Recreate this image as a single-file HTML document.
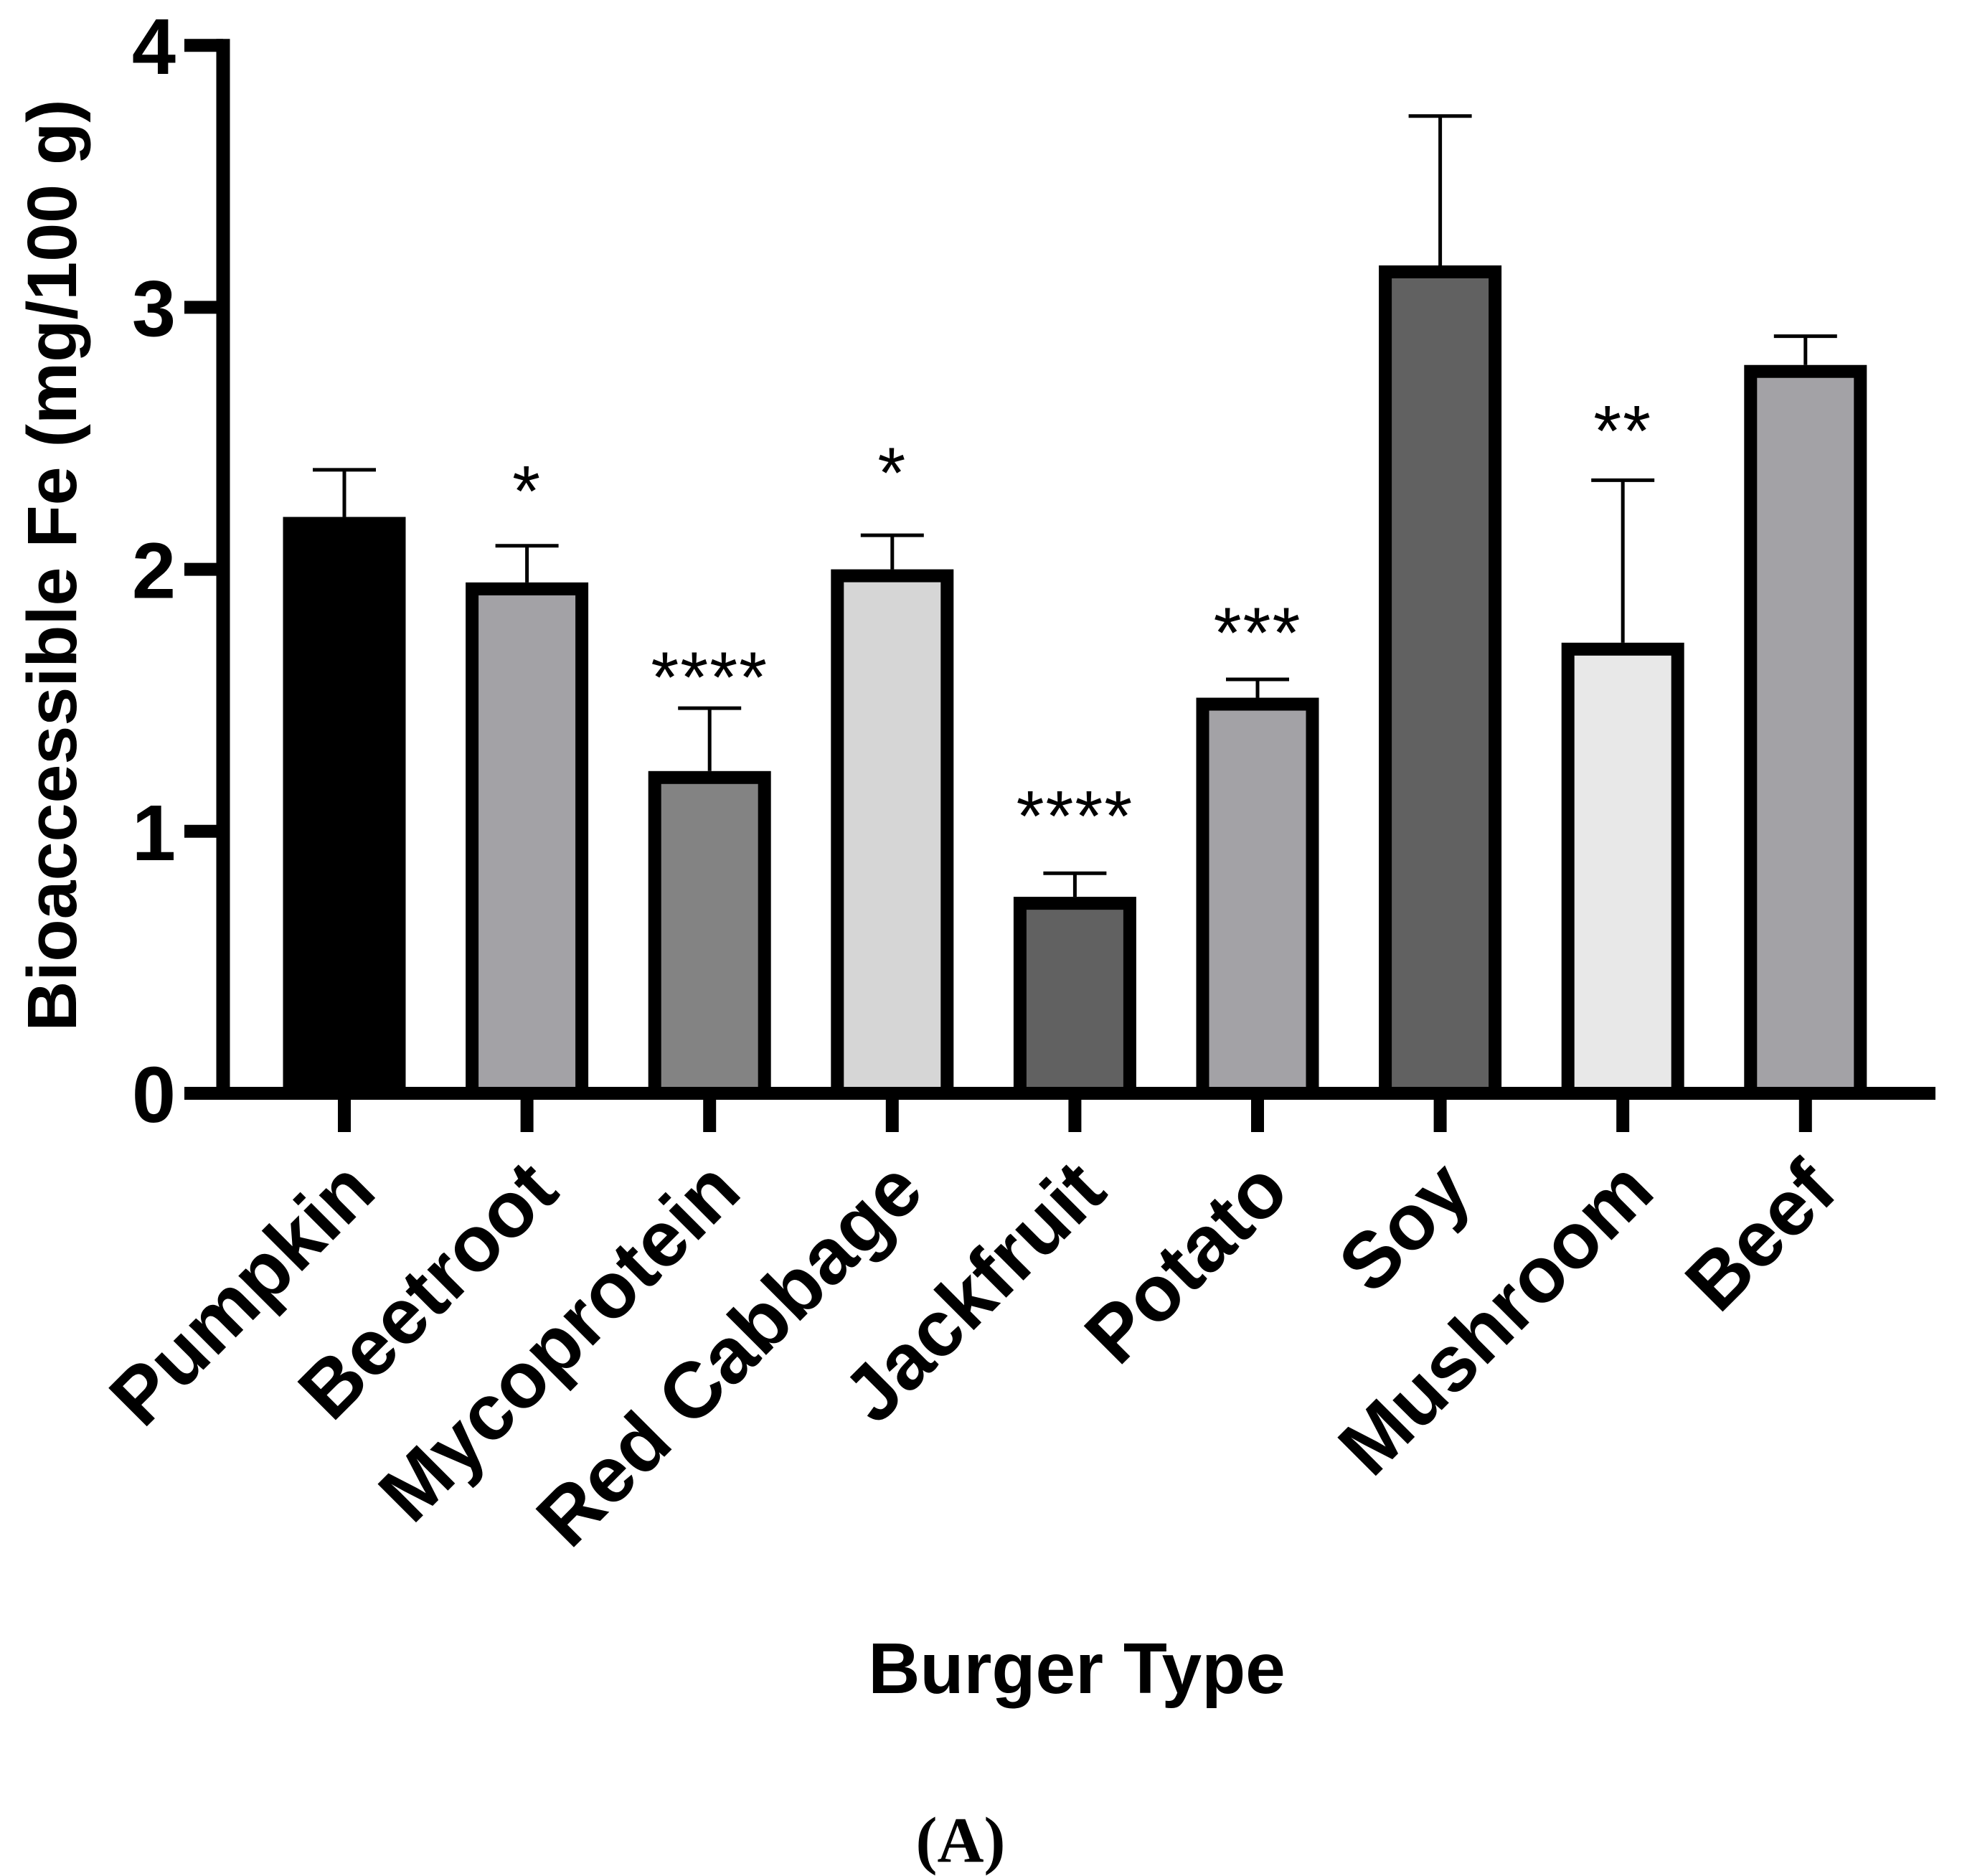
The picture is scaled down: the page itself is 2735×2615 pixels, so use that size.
<!DOCTYPE html>
<html><head><meta charset="utf-8"><style>
html,body{margin:0;padding:0;background:#fff;}
svg{display:block;}
text{font-family:"Liberation Sans",sans-serif;}
</style></head><body>
<svg id="chart" width="2735" height="2615" viewBox="0 0 2735 2615" xmlns="http://www.w3.org/2000/svg">
<g id="axes"></g>
<g id="bars"></g>
<g id="labels"></g>
<text x="0" y="0" transform="translate(106,788) rotate(-90)" text-anchor="middle" font-size="97" font-weight="bold">Bioaccessible Fe (mg/100 g)</text>
<text x="1501" y="2360" text-anchor="middle" font-size="100" font-weight="bold">Burger Type</text>
<text x="1339" y="2595" text-anchor="middle" font-size="90" font-weight="bold" style="font-family:'Liberation Serif',serif">(A)</text>
</svg>
<script>
const categories = ["Pumpkin","Beetroot","Mycoprotein","Red Cabbage","Jackfruit","Potato","Soy","Mushroom","Beef"];
const means = [2.2,1.95,1.23,2.0,0.75,1.51,3.16,1.72,2.78];
const errors = [0.18,0.14,0.24,0.13,0.09,0.07,0.57,0.62,0.11];
const stars = ["","*","****","*","****","***","","**",""];
const starLevels = [0,2.36,1.65,2.43,1.12,1.82,0,2.59,0];
const fills = ["#000000","#a3a2a6","#838383","#d6d6d6","#616161","#a3a2a6","#616161","#e8e8e8","#a3a2a6"];
const yTicks = [0,1,2,3,4];

const NS="http://www.w3.org/2000/svg";
const y0=1524, unit=365.2;
function yScale(v){return y0-unit*v;}
function xScale(i){return 480+254.6*i;}
function mk(tag,attrs,parent){const e=document.createElementNS(NS,tag);for(const k in attrs)e.setAttribute(k,attrs[k]);parent.appendChild(e);return e;}
const axes=document.getElementById('axes'), bars=document.getElementById('bars'), labels=document.getElementById('labels');

categories.forEach((c,i)=>{
  const cx=xScale(i), w=171, sw=18;
  const top=yScale(means[i]);
  const eb=mk('line',{x1:cx,x2:cx,y1:top,y2:yScale(means[i]+errors[i]),stroke:'#000','stroke-width':5},bars);
  
  
  const cap=mk('line',{x1:cx-44,x2:cx+44,y1:yScale(means[i]+errors[i]),y2:yScale(means[i]+errors[i]),stroke:'#000','stroke-width':5},bars);
  
  
  const r=mk('rect',{x:cx-w/2+sw/2,y:top+sw/2,width:w-sw,height:y0-top-sw/2,fill:fills[i],stroke:'#000','stroke-width':sw},bars);
  
  
  if(stars[i]){
    const t=mk('text',{x:cx,y:yScale(starLevels[i])+57,'text-anchor':'middle','font-size':100,'letter-spacing':2},labels);
    t.textContent=stars[i];
    
    
  }
  const tk=mk('line',{x1:cx,x2:cx,y1:1524,y2:1578,stroke:'#000','stroke-width':18},axes);
  
  
  const lx=cx+48, ly=1665;
  const lt=mk('text',{x:lx,y:ly,'text-anchor':'end','font-size':110,'font-weight':'bold',transform:`rotate(-45 ${lx} ${ly})`},labels);
  lt.textContent=c;
  
  
});

const ya=mk('line',{x1:311,x2:311,y1:yScale(4)-9,y2:1533,stroke:'#000','stroke-width':19},axes);


const xa=mk('line',{x1:257,x2:2698,y1:1524,y2:1524,stroke:'#000','stroke-width':18},axes);


yTicks.forEach(v=>{
  const l=mk('line',{x1:257,x2:311,y1:yScale(v),y2:yScale(v),stroke:'#000','stroke-width':18},axes);
  
  
  const t=mk('text',{x:245,y:yScale(v)+40,'text-anchor':'end','font-size':110,'font-weight':'bold'},labels);
  t.textContent=v;
  
  
});
</script>
</body></html>
